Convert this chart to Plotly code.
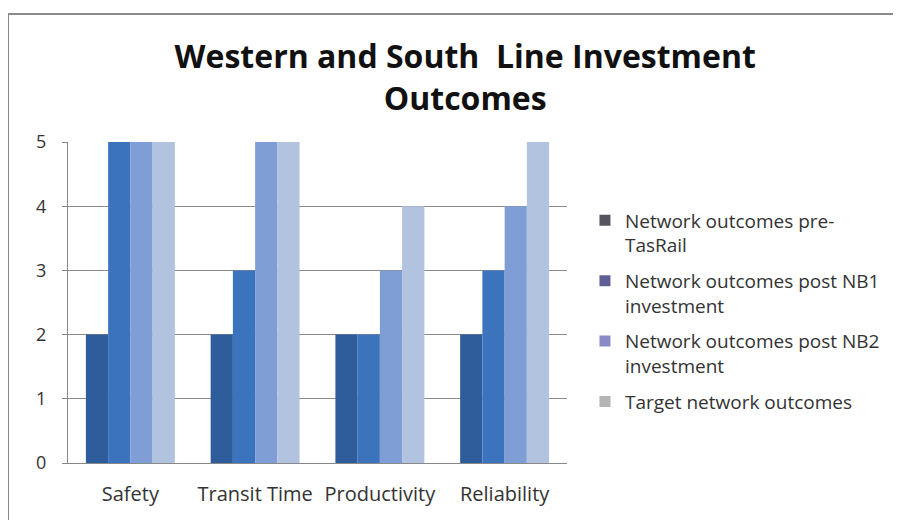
import plotly.graph_objects as go

categories = ["Safety", "Transit Time", "Productivity", "Reliability"]
series_names = [
    "Network outcomes pre-<br>TasRail",
    "Network outcomes post NB1<br>investment",
    "Network outcomes post NB2<br>investment",
    "Target network outcomes",
]
pre_tasrail = [2, 2, 2, 2]
post_nb1 = [5, 3, 2, 3]
post_nb2 = [5, 5, 3, 4]
target = [5, 5, 4, 5]
series_values = [pre_tasrail, post_nb1, post_nb2, target]
y_ticks = [0, 1, 2, 3, 4, 5]

bar_colors = ["#2F5D9B", "#3B73BC", "#7F9ED5", "#B2C3E0"]
legend_colors = ["#55555F", "#5F5F96", "#8A8AC6", "#B5B5B5"]

fig = go.Figure()
for name, vals, col in zip(series_names, series_values, bar_colors):
    fig.add_trace(go.Bar(x=categories, y=vals, name=name, marker_color=col,
                         marker_line_width=0, showlegend=False))
for i, (name, col) in enumerate(zip(series_names, legend_colors)):
    fig.add_trace(go.Scatter(x=[None], y=[None], name=name, mode="markers",
                             marker=dict(symbol="square", size=11, color=col),
                             legendgroup=f"g{i}", showlegend=True))

FONT = "Open Sans"
fig.update_layout(
    width=893, height=512,
    margin=dict(l=60, r=334, t=134, b=57),
    paper_bgcolor="white", plot_bgcolor="white",
    barmode="group", bargap=0.287, bargroupgap=0,
    title=dict(text="<b>Western and South  Line Investment<br>Outcomes</b>",
               x=0.512, xanchor="center", y=0.882, yanchor="middle",
               font=dict(family=FONT, size=32, color="#111111")),
    font=dict(family=FONT, color="#333333"),
    legend=dict(x=1.036, xanchor="left", y=0.815, yanchor="top",
                font=dict(family=FONT, size=19, color="#333333"),
                valign="top", tracegroupgap=8, itemwidth=30,
                bgcolor="rgba(0,0,0,0)"),
    showlegend=True,
)
fig.update_xaxes(showgrid=False, showline=True, linecolor="#888888", linewidth=1,
                 ticks="", tickfont=dict(size=20, color="#333333"), ticklabelstandoff=13)
fig.update_yaxes(range=[0, 5], tickvals=y_ticks, showgrid=True, gridcolor="#8A8A8A",
                 gridwidth=1, showline=True, linecolor="#888888", linewidth=1,
                 ticks="outside", ticklen=5, tickcolor="#888888",
                 tickfont=dict(size=18, color="#333333"), zeroline=False,
                 ticklabelstandoff=12)
fig.add_shape(type="rect", xref="paper", yref="paper",
              x0=-0.1202, y0=-0.2, x1=1.68, y1=1.3988,
              line=dict(color="#8A8A8A", width=2), fillcolor="rgba(0,0,0,0)", layer="below")
fig.write_html("out.html")
